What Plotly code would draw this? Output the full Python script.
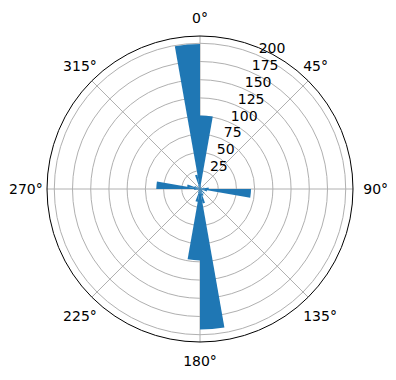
import plotly.graph_objects as go

bin_start = list(range(0, 360, 10))
counts = [101, 5, 3, 2, 0, 2, 3, 6, 12, 70,
          10, 4, 3, 8, 5, 10, 20, 193, 98, 18,
          6, 3, 2, 3, 2, 4, 8, 60, 18, 8,
          4, 2, 3, 6, 20, 199]
bin_width = 10
theta_centers = [b + bin_width / 2 for b in bin_start]

r_ticks = [25, 50, 75, 100, 125, 150, 175, 200]
theta_ticks = [0, 45, 90, 135, 180, 225, 270, 315]
theta_labels = [f"{t}°" for t in theta_ticks]
far_set = {0, 90, 180}
far_text = [lab if t in far_set else "" for t, lab in zip(theta_ticks, theta_labels)]

# diagonal labels: nudge slightly toward the vertical axis to mimic centred placement
LABEL_NUDGE = 4
def nudged(t):
    if t in (45, 225):
        return t - LABEL_NUDGE
    if t in (135, 315):
        return t + LABEL_NUDGE
    return t
near_vals = [nudged(t) for t in theta_ticks if t not in far_set]
near_text = [lab for t, lab in zip(theta_ticks, theta_labels) if t not in far_set]

W, H = 396, 380
L, R, T, B = 47, 353, 36, 342
LBL_DX, LBL_DY = -4, 11

fig = go.Figure()
fig.add_trace(go.Barpolar(
    r=counts, theta=theta_centers, width=[bin_width] * len(counts),
    marker=dict(color="#1f77b4", line=dict(width=0)),
    opacity=1, subplot="polar",
))
fig.add_trace(go.Scatterpolar(r=[], theta=[], subplot="polar2", hoverinfo="skip"))
fig.add_trace(go.Scatterpolar(r=[], theta=[], subplot="polar3", hoverinfo="skip"))

common_radial = dict(range=[0, 210], tickmode="array", tickvals=r_ticks,
                     showline=False, ticks="")
main_dom = dict(x=[L / W, R / W], y=[(H - B) / H, (H - T) / H])

fig.update_layout(
    width=W, height=H,
    margin=dict(l=0, r=0, t=0, b=0),
    paper_bgcolor="white",
    showlegend=False,
    font=dict(family="DejaVu Sans", size=14, color="black"),
    polar=dict(
        bgcolor="white",
        domain=main_dom,
        angularaxis=dict(
            direction="clockwise", rotation=90,
            tickmode="array", tickvals=theta_ticks, ticktext=far_text,
            showgrid=True, gridcolor="#b0b0b0", gridwidth=0.8,
            showline=True, linecolor="black", linewidth=1,
            ticks="outside", ticklen=7, tickcolor="rgba(0,0,0,0)",
            tickfont=dict(size=14, color="black"),
            layer="below traces",
        ),
        radialaxis=dict(
            **common_radial, angle=67.5,
            showgrid=True, gridcolor="#b0b0b0", gridwidth=0.8,
            showticklabels=False,
            layer="below traces",
        ),
        bargap=0,
    ),
    polar2=dict(
        bgcolor="rgba(0,0,0,0)",
        domain=dict(x=[(L + LBL_DX) / W, (R + LBL_DX) / W],
                    y=[(H - B + LBL_DY) / H, (H - T + LBL_DY) / H]),
        angularaxis=dict(direction="clockwise", rotation=90,
                         showgrid=False, showline=False, showticklabels=False,
                         ticks=""),
        radialaxis=dict(
            **common_radial, angle=67.5, side="clockwise",
            showgrid=False, tickangle=67.5,
            tickfont=dict(size=14, color="black"),
        ),
    ),
    polar3=dict(
        bgcolor="rgba(0,0,0,0)",
        domain=main_dom,
        angularaxis=dict(
            direction="clockwise", rotation=90,
            tickmode="array", tickvals=near_vals, ticktext=near_text,
            showgrid=False, showline=False,
            ticks="outside", ticklen=1, tickcolor="rgba(0,0,0,0)",
            tickfont=dict(size=14, color="black"),
        ),
        radialaxis=dict(range=[0, 210], showgrid=False, showline=False,
                        showticklabels=False, ticks=""),
    ),
)

fig.write_html("out.html")
